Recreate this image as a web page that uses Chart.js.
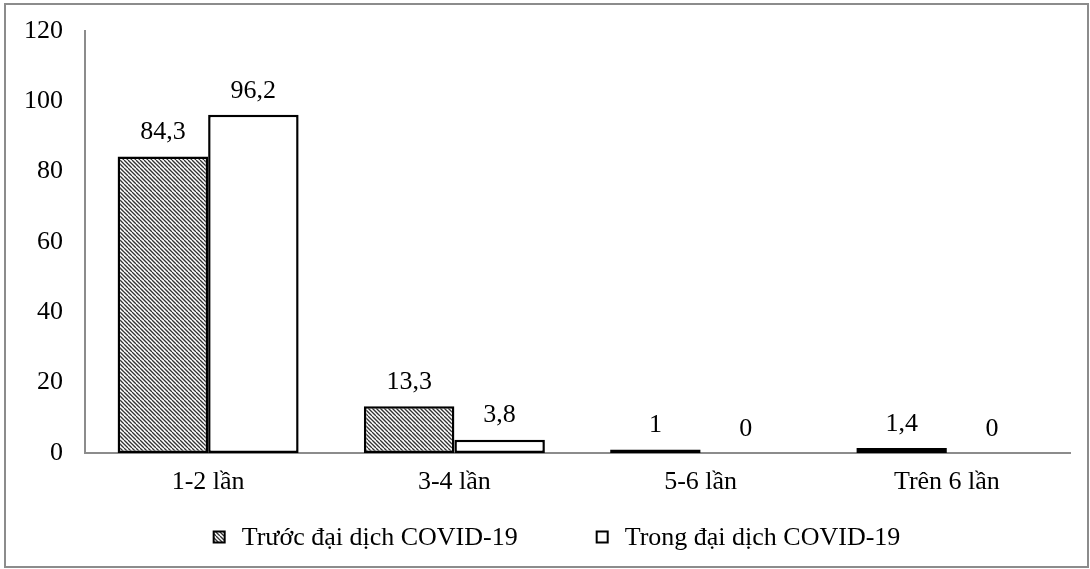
<!DOCTYPE html>
<html>
<head>
<meta charset="utf-8">
<script src="https://cdn.jsdelivr.net/npm/chart.js@4/dist/chart.umd.min.js"></script>
<style>
    html, body { margin: 0; padding: 0; background: #fff; }
    #wrap { width: 1090px; height: 569px; }
</style>
</head>
<body>
<div id="wrap"><canvas id="myChart" width="1090" height="569"></canvas></div>
<script>
const categories = ['1-2 lần', '3-4 lần', '5-6 lần', 'Trên 6 lần'];
const seriesNames = ['Trước đại dịch COVID-19', 'Trong đại dịch COVID-19'];
const beforeCovid = [84.3, 13.3, 1, 1.4];
const duringCovid = [96.2, 3.8, 0, 0];
const yTicks = [0, 20, 40, 60, 80, 100, 120];

const fontFamily = '"Liberation Serif", "Times New Roman", serif';
const fontSize = 26;

// diagonal hatch like the Excel pattern fill
function makeHatch() {
    const c = document.createElement('canvas');
    c.width = 8;
    c.height = 8;
    const g = c.getContext('2d');
    g.fillStyle = '#fff';
    g.fillRect(0, 0, 8, 8);
    g.strokeStyle = '#333';
    g.lineWidth = 1.3;
    for (let i = -3; i <= 3; i++) {
        g.beginPath();
        g.moveTo(i * 4, 0);
        g.lineTo(i * 4 + 8, 8);
        g.stroke();
    }
    return g.createPattern(c, 'repeat');
}
const hatch = makeHatch();

function fmt(v) {
    return String(v).replace('.', ',');
}

const frame = {
    id: 'frame',
    afterDraw(chart) {
        const g = chart.ctx;
        g.save();
        g.strokeStyle = '#8c8c8c';
        g.lineWidth = 2;
        g.strokeRect(5, 4, 1083, 563);
        g.restore();
    }
};

const valueLabels = {
    id: 'valueLabels',
    afterDatasetsDraw(chart) {
        const g = chart.ctx;
        g.save();
        g.font = fontSize + 'px ' + fontFamily;
        g.fillStyle = '#000';
        g.textAlign = 'center';
        g.textBaseline = 'middle';
        chart.data.datasets.forEach((ds, i) => {
            chart.getDatasetMeta(i).data.forEach((bar, j) => {
                g.fillText(fmt(ds.data[j]), bar.x, bar.y - 24);
            });
        });
        g.restore();
    }
};

// legend drawn by hand: the built-in one can't space items this wide without huge vertical padding
const bottomLegend = {
    id: 'bottomLegend',
    afterDraw(chart) {
        const g = chart.ctx;
        const box = 11, gap = 17, spacing = 79;
        const y = 537;
        g.save();
        g.font = fontSize + 'px ' + fontFamily;
        g.textBaseline = 'middle';
        const widths = chart.data.datasets.map(ds => g.measureText(ds.label).width);
        const total = widths.reduce((a, w) => a + box + gap + w, 0) + spacing * (widths.length - 1);
        let x = chart.width / 2 + 12 - total / 2;
        chart.data.datasets.forEach((ds, i) => {
            g.fillStyle = ds.backgroundColor;
            g.fillRect(x, y - box / 2, box, box);
            g.strokeStyle = '#000';
            g.lineWidth = 2;
            g.strokeRect(x, y - box / 2, box, box);
            g.fillStyle = '#000';
            g.fillText(ds.label, x + box + gap, y + 1);
            x += box + gap + widths[i] + spacing;
        });
        g.restore();
    }
};

const ctx = document.getElementById('myChart');

new Chart(ctx, {
    type: 'bar',
    data: {
        labels: categories,
        datasets: [{
            label: seriesNames[0],
            data: beforeCovid,
            backgroundColor: hatch,
            borderColor: '#000',
            borderWidth: c => c.raw === 0 ? 0 : 2.5,
            borderSkipped: false
        }, {
            label: seriesNames[1],
            data: duringCovid,
            backgroundColor: '#fff',
            borderColor: '#000',
            borderWidth: c => c.raw === 0 ? 0 : 2.5,
            borderSkipped: false
        }]
    },
    options: {
        responsive: false,
        animation: false,
        layout: {
            padding: { top: 31, right: 20, left: 0, bottom: 76 }
        },
        datasets: {
            bar: { categoryPercentage: 0.735, barPercentage: 1 }
        },
        scales: {
            x: {
                afterFit: scale => {
                    scale.height = 40;
                },
                grid: { display: false, drawTicks: false },
                border: { display: true, color: '#8c8c8c', width: 2 },
                ticks: {
                    color: '#000',
                    font: { family: fontFamily, size: fontSize },
                    padding: 14
                }
            },
            y: {
                min: 0,
                max: 120,
                afterBuildTicks: scale => {
                    scale.ticks = yTicks.map(v => ({ value: v }));
                },
                afterFit: scale => {
                    scale.width = 85;
                    scale.paddingTop = 0;
                    scale.paddingBottom = 0;
                },
                grid: { display: false, drawTicks: false },
                border: { display: true, color: '#8c8c8c', width: 2 },
                ticks: {
                    color: '#000',
                    font: { family: fontFamily, size: fontSize },
                    padding: 22
                }
            }
        },
        plugins: {
            tooltip: { enabled: false },
            legend: { display: false }
        }
    },
    plugins: [frame, valueLabels, bottomLegend]
});
</script>
</body>
</html>
